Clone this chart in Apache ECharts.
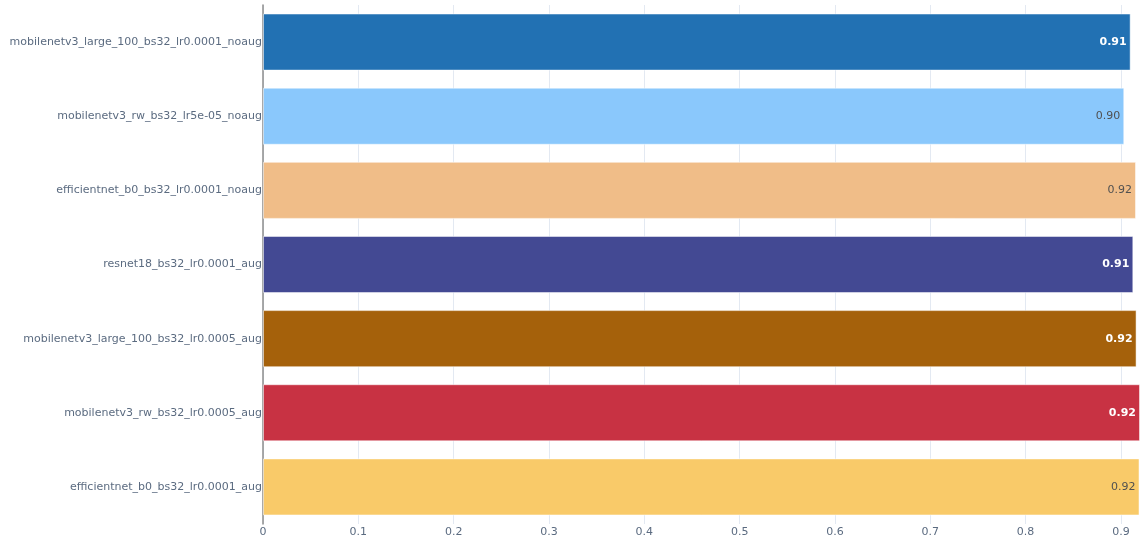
<!DOCTYPE html>
<html>
<head>
<meta charset="utf-8">
<script src="https://cdn.jsdelivr.net/npm/echarts@6/dist/echarts.min.js"></script>
<style>
html,body{margin:0;padding:0;background:#fff;}
#chart{width:1140px;height:539px;}
</style>
</head>
<body>
<div id="chart"></div>
<script>
const categories = [
  "mobilenetv3_large_100_bs32_lr0.0001_noaug",
  "mobilenetv3_rw_bs32_lr5e-05_noaug",
  "efficientnet_b0_bs32_lr0.0001_noaug",
  "resnet18_bs32_lr0.0001_aug",
  "mobilenetv3_large_100_bs32_lr0.0005_aug",
  "mobilenetv3_rw_bs32_lr0.0005_aug",
  "efficientnet_b0_bs32_lr0.0001_aug"
];
const values = [0.9102, 0.9035, 0.9158, 0.9130, 0.9164, 0.9200, 0.9195];
const barColors = ["#2271B3", "#8AC8FC", "#F0BD88", "#434993", "#A5610B", "#C83243", "#F9CA69"];
const labelColors = ["#ffffff", "#505050", "#505050", "#ffffff", "#ffffff", "#ffffff", "#505050"];
const xTicks = [0, 0.1, 0.2, 0.3, 0.4, 0.5, 0.6, 0.7, 0.8, 0.9];

const FONT = "Verdana, 'DejaVu Sans', sans-serif";
const chart = echarts.init(document.getElementById('chart'));
chart.setOption({
  animation: false,
  grid: {left: 263, right: 0, top: 5, bottom: 15, containLabel: false},
  xAxis: {
    type: 'value', min: 0, max: 0.92, interval: 0.1,
    axisLine: {show: false},
    axisTick: {show: false},
    splitLine: {show: true, lineStyle: {color: '#e3e9f2', width: 1}},
    axisLabel: {
      color: '#5b6b80', fontSize: 11, fontFamily: FONT, margin: 3,
      showMaxLabel: false,
      formatter: v => xTicks.some(t => Math.abs(t - v) < 1e-9) ? String(+v.toFixed(1)) : ''
    }
  },
  yAxis: {
    type: 'category', data: categories, inverse: true,
    axisLine: {show: true, lineStyle: {color: '#8c8c8c', width: 1.5}},
    axisTick: {show: false},
    splitLine: {show: false},
    axisLabel: {color: '#5b6b80', fontSize: 11, fontFamily: FONT, margin: 1}
  },
  series: [{
    type: 'bar',
    barCategoryGap: '23%',
    data: values.map((v, i) => ({
      value: v,
      itemStyle: {color: barColors[i], borderColor: 'rgba(255,255,255,0.5)', borderWidth: 1},
      label: {color: labelColors[i], fontWeight: labelColors[i] === '#ffffff' ? 'bold' : 'normal'}
    })),
    label: {
      show: true, position: 'insideRight', distance: 4,
      fontSize: 11, fontFamily: FONT,
      formatter: p => p.value.toFixed(2)
    }
  }]
});
</script>
</body>
</html>
